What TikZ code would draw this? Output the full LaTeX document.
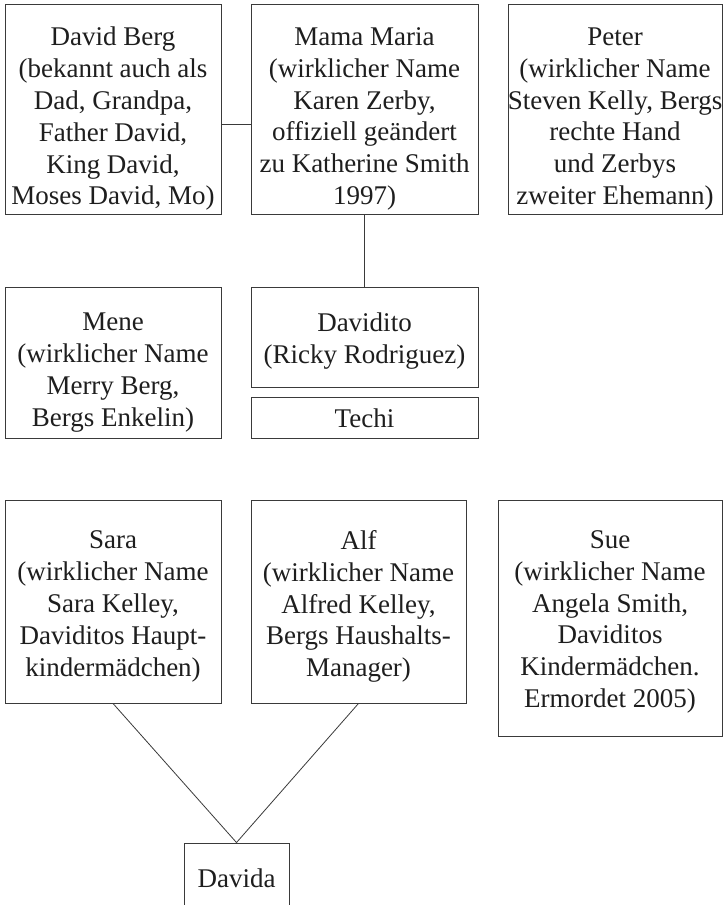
\documentclass[tikz,border=0pt]{standalone}
\usepackage{fontspec}
\setmainfont{Liberation Serif}
\definecolor{linec}{HTML}{3A3A3A}
\definecolor{textc}{HTML}{1E1E1E}
\newcommand\boxfont{\fontsize{27}{31.8}\selectfont}
\tikzset{
  pbox/.style={draw=linec, line width=0.9pt, inner sep=0pt},
  txt/.style={align=center, inner sep=0pt, font=\boxfont, text=textc},
  conn/.style={draw=linec, line width=0.8pt}
}
\begin{document}
\begin{tikzpicture}[x=1pt,y=-1pt]
\useasboundingbox[fill=white] (0,0) rectangle (723,905);
\node[pbox, minimum width=216pt, minimum height=210pt,
  label={[txt,yshift=-10pt]center:{David Berg\\(bekannt auch als\\Dad, Grandpa,\\Father David,\\King David,\\Moses David, Mo)}}]
  (berg) at (113,109) {};
\node[pbox, minimum width=227pt, minimum height=210pt,
  label={[txt,yshift=-10pt]center:{Mama Maria\\(wirklicher Name\\Karen Zerby,\\offiziell geändert\\zu Katherine Smith\\1997)}}]
  (maria) at (364.5,109) {};
\node[pbox, minimum width=214pt, minimum height=210pt,
  label={[txt,yshift=-10pt]center:{Peter\\(wirklicher Name\\Steven Kelly, Bergs\\rechte Hand\\und Zerbys\\zweiter Ehemann)}}]
  (peter) at (615,109) {};
\node[pbox, minimum width=216pt, minimum height=151pt,
  label={[txt,yshift=-10pt]center:{Mene\\(wirklicher Name\\Merry Berg,\\Bergs Enkelin)}}]
  (mene) at (113,362.5) {};
\node[pbox, minimum width=227pt, minimum height=100pt,
  label={[txt,yshift=-4pt]center:{Davidito\\(Ricky Rodriguez)}}]
  (davidito) at (364.5,337) {};
\node[pbox, minimum width=227pt, minimum height=41pt,
  label={[txt,yshift=-1pt]center:{Techi}}]
  (techi) at (364.5,417.5) {};
\node[pbox, minimum width=216pt, minimum height=203pt,
  label={[txt,yshift=-5pt]center:{Sara\\(wirklicher Name\\Sara Kelley,\\Daviditos Haupt-\\kindermädchen)}}]
  (sara) at (113,601.5) {};
\node[pbox, minimum width=215pt, minimum height=203pt,
  label={[txt,yshift=-5pt]center:{Alf\\(wirklicher Name\\Alfred Kelley,\\Bergs Haushalts-\\Manager)}}]
  (alf) at (358.5,601.5) {};
\node[pbox, minimum width=224pt, minimum height=236pt,
  label={[txt,yshift=-4pt]center:{Sue\\(wirklicher Name\\Angela Smith,\\Daviditos\\Kindermädchen.\\Ermordet 2005)}}]
  (sue) at (610,618) {};
\node[pbox, minimum width=105pt, minimum height=70pt,
  label={[txt]center:{Davida}}]
  (davida) at (236.5,878) {};
\coordinate (yline) at (0,124);
\draw[conn] (berg.east |- yline) -- (maria.west |- yline);
\draw[conn] (maria.south) -- (davidito.north);
\draw[conn] (sara.south) -- (davida.north);
\draw[conn] (alf.south) -- (davida.north);
\end{tikzpicture}
\end{document}
